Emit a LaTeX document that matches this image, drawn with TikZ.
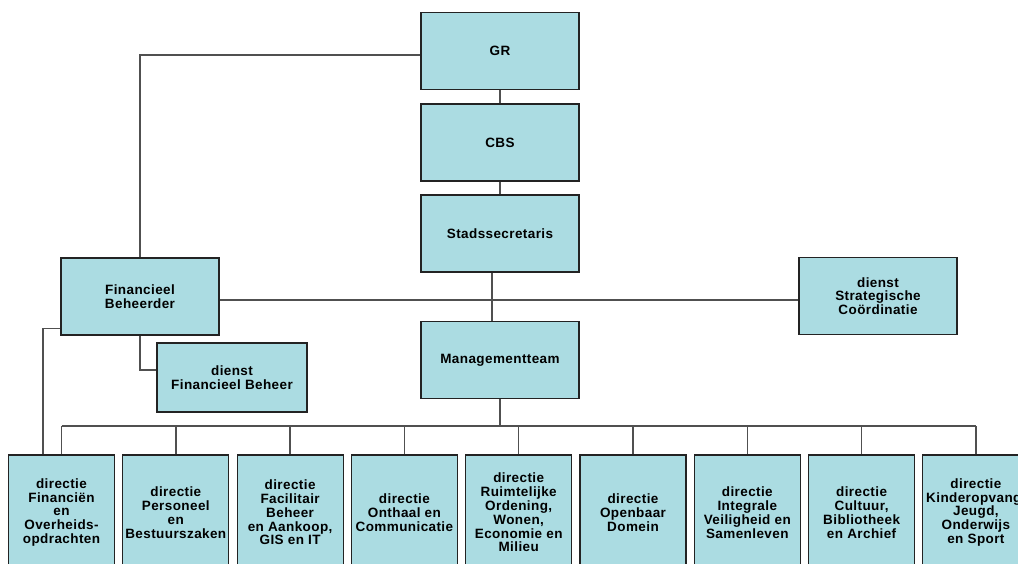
\documentclass[tikz,border=0pt]{standalone}
\usepackage{fontspec}
\setmainfont{Liberation Sans}
\newfontfamily\boxfont[LetterSpace=3]{Liberation Sans}
\definecolor{boxfill}{RGB}{171,220,226}
\definecolor{boxline}{RGB}{35,35,35}
\definecolor{conn}{RGB}{80,80,80}
\begin{document}
\begin{tikzpicture}[x=1pt,y=-1pt,
  orgbox/.style={draw=boxline,fill=boxfill,line width=1.1pt,align=center,
    inner sep=0pt,font=\boxfont\bfseries\fontsize{13.5}{13.8}\selectfont},
  big/.style={orgbox,minimum width=158pt,minimum height=77pt},
  dir/.style={orgbox,minimum width=106pt,minimum height=115pt},
  wire/.style={draw=conn,line width=1.4pt}]
\useasboundingbox (0,0) rectangle (1018,563);
\clip (0,0) rectangle (1018,563);
\fill[white] (0,0) rectangle (1018,563);

\node[big] (GR) at (500,51) {GR};
\node[big] (CBS) at (500,142.5) {CBS};
\node[big] (SS) at (500,233.5) {Stadssecretaris};
\node[big] (MT) at (500,360) {Managementteam};
\node[big] (FB) at (140,296.5) {Financieel\\Beheerder};
\node[orgbox,minimum width=150pt,minimum height=69pt] (DFB) at (232,377.5) {dienst\\Financieel Beheer};
\node[big] (SC) at (878,296) {dienst\\Strategische\\Coördinatie};

\node[dir] (d1) at (61.5,512.5) {directie\\Financiën\\en\\Overheids-\\opdrachten};
\node[dir] (d2) at (175.8,512.5) {directie\\Personeel\\en\\Bestuurszaken};
\node[dir] (d3) at (290.1,512.5) {directie\\Facilitair\\Beheer\\en Aankoop,\\GIS en IT};
\node[dir] (d4) at (404.4,512.5) {directie\\Onthaal en\\Communicatie};
\node[dir] (d5) at (518.7,512.5) {directie\\Ruimtelijke\\Ordening,\\Wonen,\\Economie en\\Milieu};
\node[dir] (d6) at (633,512.5) {directie\\Openbaar\\Domein};
\node[dir] (d7) at (747.3,512.5) {directie\\Integrale\\Veiligheid en\\Samenleven};
\node[dir] (d8) at (861.6,512.5) {directie\\Cultuur,\\Bibliotheek\\en Archief};
\node[dir] (d9) at (975.9,512.5) {directie\\Kinderopvang,\\Jeugd,\\Onderwijs\\en Sport};

\coordinate (bus) at (500,426);

\draw[wire] ([yshift=-4pt]GR.west) -| (FB.north);
\draw[wire] (GR.south) -- (CBS.north);
\draw[wire] (CBS.south) -- (SS.north);
\draw[wire] ([xshift=-8pt]SS.south) -- ([xshift=-8pt]MT.north);
\draw[wire] ([yshift=-3.5pt]FB.east) -- ([yshift=-3.5pt]FB.east -| SC.west);
\draw[wire] (FB.south) |- ([yshift=7.5pt]DFB.west);
\draw[wire] ([yshift=7pt]FB.south west) -| ([xshift=-18.5pt]d1.north);
\draw[wire] (MT.south) -- (MT.south |- bus);
\draw[wire] (d1.north |- bus) -- (d9.north |- bus);
\foreach \i in {1,...,9}{
  \draw[wire] (d\i.north) -- (d\i.north |- bus);
}
\end{tikzpicture}
\end{document}
